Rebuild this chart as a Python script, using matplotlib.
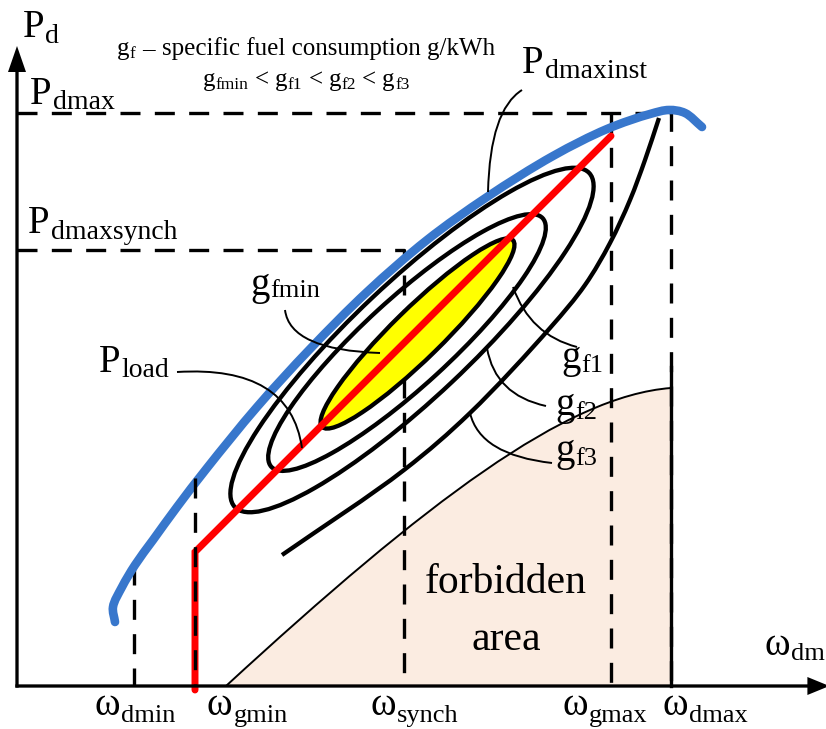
import numpy as np
import matplotlib
matplotlib.use("Agg")
import matplotlib.pyplot as plt
from matplotlib.path import Path
from matplotlib.patches import PathPatch, Ellipse

FONT = "Liberation Serif"

# ---------------- data (axis frame: origin at the axes corner, 1 unit = 1 px) -------------
omega_names = ["dmin", "gmin", "synch", "gmax", "dmax"]
omega_pos = [117, 178, 387, 594, 654]
omega_label_u = [78, 190, 353, 545, 645]
P_dmax = 573
P_dmaxsynch = 436
omega_dmin_top = 121
omega_gmin_top = 208
omega_dmax_solid_top = 319

# P_dmaxinst curve (blue)
blue_u = [98, 96, 105, 118, 136, 160, 190, 240, 293, 350, 410, 470, 536, 590, 633, 652, 668, 685]
blue_v = [64, 79, 99, 121, 146, 179, 218, 279, 337, 394, 446, 489, 530, 557, 572, 576, 573, 559]

# P_load (red)
red_u = [178, 178, 594]
red_v = [-4, 134, 550]

# constant fuel-consumption ellipses
ell_names = ["gfmin", "gf1", "gf2"]
ell_cu = [400.5, 390, 395]
ell_cv = [352.5, 343.5, 346]
ell_w = [267, 368, 487]
ell_h = [50, 87, 116]
ell_ang = [44.4, 42.5, 43.3]

# open g_f3 curve
gf3_u = [265, 387, 453, 533, 568, 593, 613, 628, 642]
gf3_v = [131, 216, 273, 358, 401, 443, 486, 526, 568]

# forbidden-area boundary (cubic Bezier control points)
forb_u = [209, 409, 549, 654]
forb_v = [0, 184, 290, 298]

# leader lines (quadratic Bezier: start, control, end)
leaders = {
    "Pdmaxinst": ([505, 473, 471], [596, 576, 494]),
    "gfmin": ([268, 273, 363], [376, 336, 333]),
    "Pload": ([160, 273, 285], [314, 321, 238]),
    "gf1": ([496, 513, 560], [399, 351, 339]),
    "gf2": ([470, 478, 529], [338, 291, 280]),
    "gf3": ([453, 463, 535], [273, 231, 223]),
}

BLUE = "#3877CC"
RED = "#FF0000"
YELLOW = "#FFFF00"
PEACH = "#FBECE1"

fig = plt.figure(figsize=(8.26, 7.29), dpi=100)
ax = fig.add_axes([0, 0, 1, 1])
ax.set_xlim(-17, 809)
ax.set_ylim(-43, 686)
ax.axis("off")
renderer = fig.canvas.get_renderer()


def smooth_path(us, vs, alpha=0.5):
    """Centripetal Catmull-Rom through the points, as cubic Bezier segments."""
    P = np.column_stack([us, vs]).astype(float)
    n = len(P)
    verts = [P[0]]
    codes = [Path.MOVETO]
    for i in range(n - 1):
        p1 = P[i]
        p2 = P[i + 1]
        p0 = P[i - 1] if i > 0 else p1 - (p2 - p1)
        p3 = P[i + 2] if i + 2 < n else p2 + (p2 - p1)
        d0 = max(np.linalg.norm(p1 - p0) ** alpha, 1e-6)
        d1 = max(np.linalg.norm(p2 - p1) ** alpha, 1e-6)
        d2 = max(np.linalg.norm(p3 - p2) ** alpha, 1e-6)
        m1 = (p1 - p0) / d0 - (p2 - p0) / (d0 + d1) + (p2 - p1) / d1
        m2 = (p2 - p1) / d1 - (p3 - p1) / (d1 + d2) + (p3 - p2) / d2
        m1 *= d1
        m2 *= d1
        verts += [p1 + m1 / 3.0, p2 - m2 / 3.0, p2]
        codes += [Path.CURVE4] * 3
    return Path(verts, codes)


DASH = (0, (6.0, 4.3))
dlw = 2.4

# forbidden area
fverts = list(zip(forb_u, forb_v)) + [(forb_u[-1], 0), (forb_u[0], forb_v[0])]
fcodes = [Path.MOVETO, Path.CURVE4, Path.CURVE4, Path.CURVE4, Path.LINETO, Path.CLOSEPOLY]
ax.add_patch(PathPatch(Path(fverts, fcodes), facecolor=PEACH, edgecolor="none", zorder=1))
ax.add_patch(PathPatch(Path(list(zip(forb_u, forb_v)),
                            [Path.MOVETO, Path.CURVE4, Path.CURVE4, Path.CURVE4]),
                       fill=False, edgecolor="black", lw=1.4, zorder=2))

# dashed reference lines
ax.plot([0, omega_pos[4], omega_pos[4]], [P_dmax, P_dmax, 0], color="black", lw=dlw,
        linestyle=DASH, zorder=3)
ax.plot([omega_pos[3], omega_pos[3]], [P_dmax, 0], color="black", lw=dlw, linestyle=DASH, zorder=3)
ax.plot([0, omega_pos[2], omega_pos[2]], [P_dmaxsynch, P_dmaxsynch, 0], color="black", lw=dlw,
        linestyle=DASH, zorder=3)
ax.plot([omega_pos[0], omega_pos[0]], [omega_dmin_top, 0], color="black", lw=dlw,
        linestyle=DASH, zorder=3)
ax.plot([omega_pos[4], omega_pos[4]], [omega_dmax_solid_top, 0], color="black", lw=dlw, zorder=3)

# ellipses
for i, name in enumerate(ell_names):
    ax.add_patch(Ellipse((ell_cu[i], ell_cv[i]), ell_w[i], ell_h[i], angle=ell_ang[i],
                         facecolor=YELLOW if name == "gfmin" else "none",
                         edgecolor="black", lw=3.1, zorder=4 if name == "gfmin" else 4.1))

# g_f3 open curve
ax.add_patch(PathPatch(smooth_path(gf3_u, gf3_v), fill=False, edgecolor="black", lw=3.1,
                       capstyle="butt", zorder=4))

# P_load
ax.plot(red_u, red_v, color=RED, lw=5, solid_capstyle="round", solid_joinstyle="miter", zorder=5)
# omega_gmin dashed over the red line
ax.plot([omega_pos[1], omega_pos[1]], [omega_gmin_top, 0], color="black", lw=dlw,
        linestyle=DASH, zorder=6)

# P_dmaxinst
ax.add_patch(PathPatch(smooth_path(blue_u, blue_v), fill=False, edgecolor=BLUE, lw=6.2,
                       capstyle="round", zorder=5))

# leaders
for name, (lu, lv) in leaders.items():
    ax.add_patch(PathPatch(Path(list(zip(lu, lv)), [Path.MOVETO, Path.CURVE3, Path.CURVE3]),
                           fill=False, edgecolor="black", lw=1.4, zorder=7))

# axes arrows
ax.arrow(0, -1.6, 0, 641.6, width=3.3, head_width=18, head_length=26,
         length_includes_head=True, fc="black", ec="none", zorder=8)
ax.arrow(-1.6, 0, 814, 0, width=3.3, head_width=18, head_length=22,
         length_includes_head=True, fc="black", ec="none", zorder=8)


def seq(x, y, parts):
    for txt, size, dy, gap in parts:
        x += gap
        t = ax.text(x, y - dy, txt, fontsize=size, fontfamily=FONT, ha="left",
                    va="baseline", color="black", zorder=9)
        x += t.get_window_extent(renderer=renderer).width


PM, PS = 28, 20
# P labels
seq(6, 649, [("P", PM, 0, 0), ("d", PS, 6, 1)])
seq(13, 582, [("P", PM, 0, 0), ("dmax", PS, 5, 1)])
seq(11, 453, [("P", PM, 0, 0), ("dmaxsynch", PS, 6, 1)])
seq(505, 613, [("P", PM, 0, 0), ("dmaxinst", PS, 5, 1)])
seq(82, 314, [("P", PM, 0, 0), ("load", PS, 5, 1)])

# g labels
GM, GS = 28, 19
seq(233, 391, [("g", GM, 0, 0), ("fmin", GS, 2, 1)])
seq(544, 318, [("g", GM, 0, 0), ("f1", GS, 4, 1)])
seq(538, 271, [("g", GM, 0, 0), ("f2", GS, 4, 1)])
seq(538, 225, [("g", GM, 0, 0), ("f3", GS, 4, 1)])

# omega labels
WM, WS = 28, 19
for name, u in zip(omega_names, omega_label_u):
    seq(u, -29, [("ω", WM, 0, 0), (name, WS, 7, 1)])
seq(748, 31, [("ω", WM, 0, 0), ("dm", WS, 5, 1)])

# forbidden area text
ax.text(489, 93, "forbidden", fontsize=30, fontfamily=FONT, ha="center", va="baseline", zorder=9)
ax.text(489, 36, "area", fontsize=30, fontfamily=FONT, ha="center", va="baseline", zorder=9)

# title lines
TM, TS = 18, 12.5
seq(100, 631, [("g", TM, 0, 0), ("f", TS, 3, 0.5), ("–", TM, 0, 6),
               ("specific fuel consumption g/kWh", TM, 0, 8)])
seq(186, 600, [("g", TM, 0, 0), ("fmin", TS, 3, 0.5), ("<", TM, 0, 6),
               ("g", TM, 0, 6), ("f1", TS, 3, 0.5), ("<", TM, 0, 6),
               ("g", TM, 0, 6), ("f2", TS, 3, 0.5), ("<", TM, 0, 6),
               ("g", TM, 0, 6), ("f3", TS, 3, 0.5)])

fig.savefig("out.png", dpi=100)
